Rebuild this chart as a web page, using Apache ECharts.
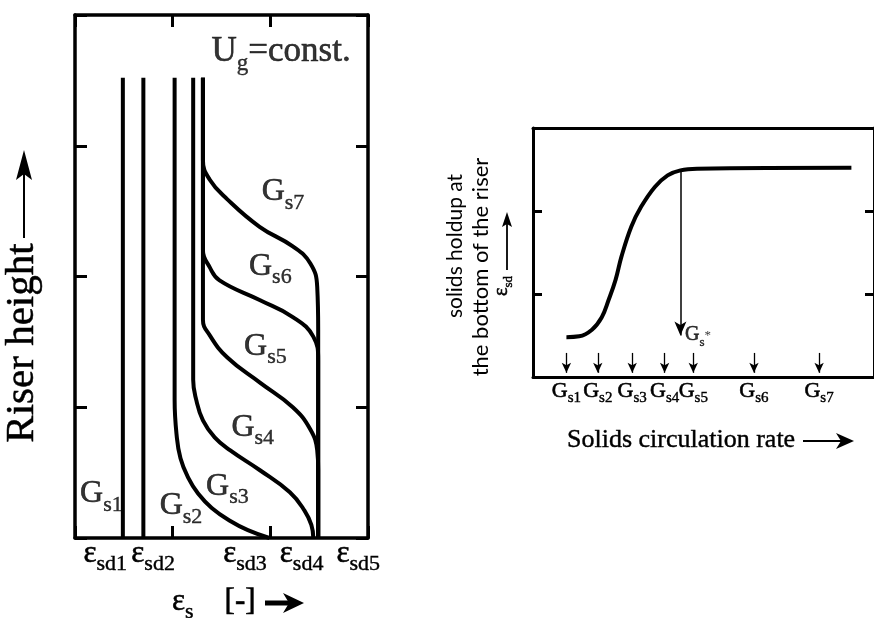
<!DOCTYPE html>
<html><head><meta charset="utf-8">
<script src="https://cdn.jsdelivr.net/npm/echarts@6/dist/echarts.min.js"></script>
<style>html,body{margin:0;padding:0;background:#fff}#c{width:874px;height:618px}</style>
</head><body><div id="c"></div>
<script>
// ---------- Left panel: axial solids holdup profiles (x = eps_s, y = riser height) ----------
const curveNames = ['1', '2', '3', '4', '5', '6', '7'];
const gs1Curve = [[0.49, 3.52], [0.49, 0]];
const gs2Curve = [[0.70, 3.52], [0.70, 0]];
const gs3Curve = [[1.02, 3.52], [1.02, 1.06], [1.04, 0.79], [1.08, 0.61], [1.16, 0.46], [1.26, 0.34], [1.40, 0.23], [1.59, 0.13], [1.77, 0.06], [1.99, 0]];
const gs4Curve = [[1.21, 3.52], [1.21, 1.21], [1.24, 1.06], [1.31, 0.90], [1.43, 0.77], [1.59, 0.67], [1.89, 0.52], [2.20, 0.35], [2.35, 0.21], [2.42, 0.10], [2.44, 0]];
const gs5Curve = [[1.31, 3.52], [1.31, 1.67], [1.38, 1.55], [1.56, 1.38], [1.89, 1.19], [2.23, 1.00], [2.41, 0.83], [2.48, 0.67], [2.49, 0.52], [2.49, 0]];
const gs6Curve = [[1.31, 3.52], [1.31, 2.20], [1.38, 2.07], [1.48, 1.97], [1.89, 1.82], [2.23, 1.69], [2.44, 1.54], [2.49, 1.36], [2.49, 0]];
const gs7Curve = [[1.31, 3.52], [1.31, 2.89], [1.38, 2.74], [1.56, 2.59], [1.89, 2.38], [2.23, 2.23], [2.41, 2.10], [2.48, 1.92], [2.49, 1.59], [2.49, 0]];
const curveLabelPos = [[0.27, 0.29], [1.085, 0.20], [1.56, 0.35], [1.82, 0.80], [1.95, 1.42], [2.00, 2.03], [2.13, 2.60]];
const epsTickPos = [0.31, 0.80, 1.74, 2.32, 2.90];
const epsTickNames = ['1', '2', '3', '4', '5'];
const constLabelPos = [2.11, 3.67];

// ---------- Right panel: solids holdup at bottom vs. solids circulation rate ----------
const gsRatePos = [9.8, 19.0, 29.1, 38.6, 47.0, 64.8, 83.9];
const gsRateNames = ['1', '2', '3', '4', '5', '6', '7'];
const holdupCurve = [[9.80, 0.48], [13.54, 0.49], [17.29, 0.57], [20.17, 0.72], [22.19, 0.93], [24.21, 1.17], [25.94, 1.45], [28.82, 1.81], [31.70, 2.05], [35.73, 2.29], [39.48, 2.43], [43.23, 2.49], [48.13, 2.51], [93.37, 2.52]];
const gsStarX = 43.23, gsStarTop = 2.49, gsStarBottom = 0.50;
const rateArrowTop = 0.29, rateArrowBottom = 0.05;

const serif = '"Liberation Serif", "Times New Roman", serif';
const sans = 'Lato, "Open Sans", sans-serif';
// rich styles for series / axis labels
function subRich(big, small, pad) {
  return {
    m: { fontFamily: serif, fontSize: big, lineHeight: big, padding: [0, 0, pad, 0], verticalAlign: 'bottom', color: '#000', textBorderColor: '#000', textBorderWidth: 0.6 },
    s: { fontFamily: serif, fontSize: small, lineHeight: small, verticalAlign: 'bottom', color: '#000', textBorderColor: '#000', textBorderWidth: 0.4 }
  };
}
// rich styles for graphic text elements (zrender style names)
function gRich(big, small, pad) {
  return {
    m: { fontFamily: serif, fontSize: big, lineHeight: big, padding: [0, 0, pad, 0], verticalAlign: 'bottom', fill: '#000', stroke: '#000', lineWidth: 0.6 },
    s: { fontFamily: serif, fontSize: small, lineHeight: small, verticalAlign: 'bottom', fill: '#000', stroke: '#000', lineWidth: 0.4 },
    t: { fontFamily: serif, fontSize: big, lineHeight: big, padding: [0, 0, pad, 0], verticalAlign: 'bottom', fill: '#000', stroke: '#000', lineWidth: 0.6 }
  };
}
const frame = { show: true, onZero: false, lineStyle: { color: '#000', width: 3.5 } };
const frame2 = { show: true, onZero: false, lineStyle: { color: '#000', width: 3 } };

const leftCurves = [gs1Curve, gs2Curve, gs3Curve, gs4Curve, gs5Curve, gs6Curve, gs7Curve];
const series = leftCurves.map((d, i) => ({
  type: 'line', xAxisIndex: 0, yAxisIndex: 0, data: d, smooth: 0.45, symbol: 'none',
  lineStyle: { color: '#000', width: 4 }, z: 3
}));
series.push({
  type: 'scatter', xAxisIndex: 0, yAxisIndex: 0, symbolSize: 1, itemStyle: { color: 'rgba(0,0,0,0)' },
  data: curveLabelPos.map((p, i) => ({ value: p, name: curveNames[i] })),
  label: { show: true, position: 'inside', color: '#000', formatter: p => '{m|G}{s|s' + p.name + '}', rich: subRich(32, 22, 6) }
});
series.push({
  type: 'scatter', xAxisIndex: 0, yAxisIndex: 0, symbolSize: 1, itemStyle: { color: 'rgba(0,0,0,0)' },
  data: [{ value: constLabelPos, name: 'U' }],
  label: { show: true, position: 'inside', color: '#000', formatter: '{m|U}{s|g}{m|=const.}', rich: subRich(35, 23, 6) }
});
series.push({
  type: 'line', xAxisIndex: 2, yAxisIndex: 2, data: holdupCurve, smooth: 0.4, symbol: 'none',
  lineStyle: { color: '#000', width: 4 }, z: 3,
  markLine: {
    silent: true, symbol: ['none', 'arrow'], symbolSize: [7, 10], label: { show: false },
    lineStyle: { color: '#000', width: 1.3, type: 'solid' },
    data: gsRatePos.map(x => [{ coord: [x, rateArrowTop] }, { coord: [x, rateArrowBottom] }])
  }
});
series.push({
  type: 'line', xAxisIndex: 2, yAxisIndex: 2, data: [], symbol: 'none',
  markLine: {
    silent: true, symbol: ['none', 'arrow'], symbolSize: [9, 14], label: { show: false },
    lineStyle: { color: '#000', width: 1.5, type: 'solid' },
    data: [[{ coord: [gsStarX, gsStarTop] }, { coord: [gsStarX, gsStarBottom] }]]
  }
});
series.push({
  type: 'scatter', xAxisIndex: 2, yAxisIndex: 2, symbolSize: 1, itemStyle: { color: 'rgba(0,0,0,0)' },
  data: [{ value: [gsStarX + 1.2, gsStarBottom - 0.04], name: 'star' }],
  label: { show: true, position: 'right', distance: 0, color: '#000', formatter: '{m|G}{s|s}{t|*}', rich: Object.assign(subRich(20, 13, 4), { t: { fontFamily: serif, fontSize: 13, color: '#000', verticalAlign: 'top', lineHeight: 13 } }) }
});

const option = {
  animation: false,
  backgroundColor: '#fff',
  grid: [
    { left: 75, top: 15, width: 293, height: 523 },
    { left: 533, top: 128, width: 347, height: 249 }
  ],
  xAxis: [
    { gridIndex: 0, type: 'value', min: 0, max: 3, interval: 1, position: 'bottom', axisLine: frame, splitLine: { show: false },
      axisTick: { show: true, inside: true, length: 12, lineStyle: { color: '#000', width: 3 } },
      axisLabel: { show: true, customValues: epsTickPos, margin: 6, color: '#000',
        formatter: v => '{m|ε}{s|sd' + epsTickNames[epsTickPos.indexOf(v)] + '}', rich: subRich(31, 22, 6) } },
    { gridIndex: 0, type: 'value', min: 0, max: 3, interval: 1, position: 'top', axisLine: frame, splitLine: { show: false },
      axisTick: { show: true, inside: true, length: 12, lineStyle: { color: '#000', width: 3 } }, axisLabel: { show: false } },
    { gridIndex: 1, type: 'value', min: 0, max: 100, position: 'bottom', axisLine: frame2, splitLine: { show: false },
      axisTick: { show: false },
      axisLabel: { show: true, customValues: gsRatePos, margin: 7, color: '#000',
        formatter: v => '{m|G}{s|s' + gsRateNames[gsRatePos.indexOf(v)] + '}', rich: subRich(22, 15, 4) } },
    { gridIndex: 1, type: 'value', min: 0, max: 100, position: 'top', axisLine: frame2, splitLine: { show: false },
      axisTick: { show: false }, axisLabel: { show: false } }
  ],
  yAxis: [
    { gridIndex: 0, type: 'value', min: 0, max: 4, interval: 1, position: 'left', axisLine: frame, splitLine: { show: false },
      axisTick: { show: true, inside: true, length: 12, lineStyle: { color: '#000', width: 3 } }, axisLabel: { show: false } },
    { gridIndex: 0, type: 'value', min: 0, max: 4, interval: 1, position: 'right', axisLine: frame, splitLine: { show: false },
      axisTick: { show: true, inside: true, length: 12, lineStyle: { color: '#000', width: 3 } }, axisLabel: { show: false } },
    { gridIndex: 1, type: 'value', min: 0, max: 3, interval: 1, position: 'left', axisLine: frame2, splitLine: { show: false },
      axisTick: { show: true, inside: true, length: 9, lineStyle: { color: '#000', width: 3 } }, axisLabel: { show: false } },
    { gridIndex: 1, type: 'value', min: 0, max: 3, interval: 1, position: 'right', axisLine: frame2, splitLine: { show: false },
      axisTick: { show: true, inside: true, length: 9, lineStyle: { color: '#000', width: 3 } }, axisLabel: { show: false } }
  ],
  graphic: [
    // Riser height label + arrow
    { type: 'text', x: 22, y: 343, rotation: Math.PI / 2,
      style: { text: 'Riser height', font: '41px ' + serif, fill: '#000', stroke: '#000', lineWidth: 0.5, align: 'center', verticalAlign: 'middle' } },
    { type: 'line', shape: { x1: 24, y1: 238, x2: 24, y2: 172 }, style: { stroke: '#000', lineWidth: 2 } },
    { type: 'polygon', shape: { points: [[24, 150], [16, 180], [24, 174], [32, 180]] }, style: { fill: '#000' } },
    // eps_s [-] arrow
    { type: 'text', x: 172, y: 608,
      style: { text: '{m|ε}{s|s}{t|    [-]}', align: 'left', verticalAlign: 'middle', rich: gRich(31, 22, 6) } },
    { type: 'line', shape: { x1: 265, y1: 603, x2: 290, y2: 603 }, style: { stroke: '#000', lineWidth: 5 } },
    { type: 'polygon', shape: { points: [[304, 603], [283, 593], [289, 603], [283, 613]] }, style: { fill: '#000' } },
    // right panel y label
    { type: 'text', x: 455, y: 246, rotation: Math.PI / 2,
      style: { text: 'solids holdup at', font: '21px ' + sans, fill: '#000', align: 'center', verticalAlign: 'middle' } },
    { type: 'text', x: 481, y: 267, rotation: Math.PI / 2,
      style: { text: 'the bottom of the riser', font: '22px ' + sans, fill: '#000', align: 'center', verticalAlign: 'middle' } },
    { type: 'line', shape: { x1: 507, y1: 270, x2: 507, y2: 224 }, style: { stroke: '#000', lineWidth: 1.8 } },
    { type: 'polygon', shape: { points: [[507, 212], [502, 227], [507, 224], [512, 227]] }, style: { fill: '#000' } },
    { type: 'text', x: 505, y: 286, rotation: Math.PI / 2,
      style: { text: '{m|ε}{s|sd}', align: 'center', verticalAlign: 'middle', rich: gRich(20, 13, 3) } },
    // x label right panel
    { type: 'text', x: 567, y: 440,
      style: { text: 'Solids circulation rate', font: '26px ' + serif, fill: '#000', stroke: '#000', lineWidth: 0.4, align: 'left', verticalAlign: 'middle' } },
    { type: 'line', shape: { x1: 803, y1: 441, x2: 842, y2: 441 }, style: { stroke: '#000', lineWidth: 2.2 } },
    { type: 'polygon', shape: { points: [[854, 441], [836, 433], [841, 441], [836, 449]] }, style: { fill: '#000' } }
  ],
  series: series
};
const chart = echarts.init(document.getElementById('c'));
chart.setOption(option);
</script></body></html>
